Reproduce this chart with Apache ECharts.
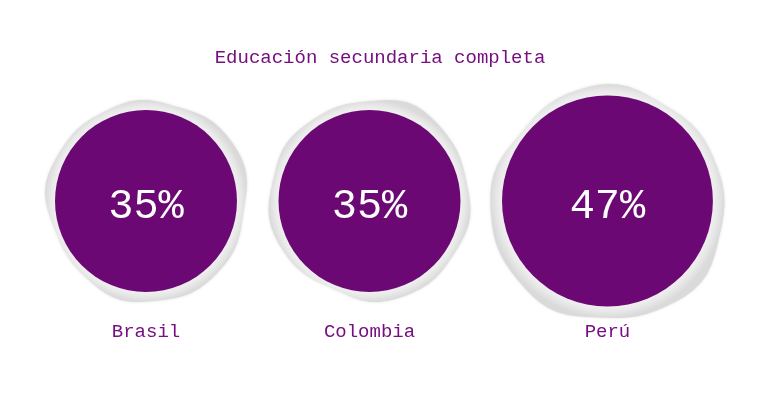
<!DOCTYPE html>
<html>
<head>
<meta charset="utf-8">
<script src="https://cdn.jsdelivr.net/npm/echarts@6/dist/echarts.min.js"></script>
<style>
html,body{margin:0;padding:0;background:#fff;}
#chart{width:760px;height:405px;}
</style>
</head>
<body>
<div id="chart"></div>
<script>
// ---- data ----
var titleText = 'Educación secundaria completa';
var countries = ['Brasil', 'Colombia', 'Perú'];
var values = [35, 35, 47];
var valueLabels = ['35%', '35%', '47%'];

// ---- layout helpers (circle area proportional to value) ----
var PX_PER_UNIT = 15.38;   // pixels per sqrt-unit
var GAP_UNITS = 2.7;       // gap between circles in sqrt-units
var LEFT_PAD = 55;         // px before first circle
var radii = values.map(function (v) { return Math.sqrt(v); });
var centers = [];
radii.forEach(function (r, i) {
  if (i === 0) centers.push(r);
  else centers.push(centers[i - 1] + radii[i - 1] + GAP_UNITS + r);
});

// smooth, slightly irregular "paper" outline (decorative style only)
function paperPath(rot) {
  var n = 72, pts = [];
  for (var i = 0; i < n; i++) {
    var a = (i / n) * Math.PI * 2;
    var r = 50 - 0.9 * (1 + Math.sin(3 * a + rot)) - 0.7 * (1 + Math.sin(5 * a + 2.3 * rot))
              - 0.4 * (1 + Math.sin(9 * a + 1.7 * rot));
    pts.push((50 + r * Math.cos(a)).toFixed(2) + ',' + (50 + r * Math.sin(a)).toFixed(2));
  }
  return 'path://M' + pts.join('L') + 'Z';
}

var fontFam = '"Liberation Mono","DejaVu Sans Mono",monospace';
var chart = echarts.init(document.getElementById('chart'));

var circleData = values.map(function (v, i) {
  return { name: countries[i], value: [centers[i], 0, v] };
});
var paperData = values.map(function (v, i) {
  return { name: countries[i], value: [centers[i], 0, v], symbol: paperPath(i * 1.3 + 0.4) };
});
var nameData = values.map(function (v, i) {
  return { name: countries[i], value: [centers[i], -1.3, v] };
});

var option = {
  backgroundColor: '#ffffff',
  animation: false,
  title: {
    text: titleText,
    left: 'center',
    top: 43,
    textStyle: { fontFamily: fontFam, fontSize: 19, fontWeight: 'normal', color: '#761080' }
  },
  grid: { left: 0, right: 0, top: 0, bottom: 3 },
  xAxis: {
    type: 'value',
    min: -LEFT_PAD / PX_PER_UNIT,
    max: (760 - LEFT_PAD) / PX_PER_UNIT,
    show: false
  },
  yAxis: { type: 'value', min: -2, max: 2, show: false },
  series: [
    {
      type: 'scatter',
      clip: false,
      data: paperData,
      symbolSize: function (val) { return 2 * PX_PER_UNIT * Math.sqrt(val[2]) * 1.11; },
      itemStyle: {
        color: {
          type: 'radial', x: 0.5, y: 0.5, r: 0.5,
          colorStops: [
            { offset: 0, color: '#ffffff' },
            { offset: 0.86, color: '#f6f6f6' },
            { offset: 0.94, color: '#e9e9e9' },
            { offset: 1, color: '#dadada' }
          ]
        },
        opacity: 1,
        shadowColor: 'rgba(0,0,0,0.12)',
        shadowBlur: 3
      },
      silent: true
    },
    {
      type: 'scatter',
      clip: false,
      data: circleData,
      symbol: 'circle',
      symbolSize: function (val) { return 2 * PX_PER_UNIT * Math.sqrt(val[2]); },
      itemStyle: { color: '#6b0874', opacity: 1 },
      label: {
        show: true,
        position: 'inside',
        offset: [0, 6],
        formatter: function (p) { return valueLabels[p.dataIndex]; },
        fontFamily: fontFam,
        fontSize: 42,
        color: '#ffffff',
        textBorderWidth: 0
      }
    },
    {
      type: 'scatter',
      clip: false,
      data: nameData,
      symbolSize: 1,
      itemStyle: { color: '#ffffff', opacity: 1 },
      label: {
        show: true,
        position: 'inside',
        formatter: '{b}',
        fontFamily: fontFam,
        fontSize: 19,
        color: '#761080',
        opacity: 1,
        textBorderWidth: 0
      }
    }
  ]
};
chart.setOption(option);
</script>
</body>
</html>
